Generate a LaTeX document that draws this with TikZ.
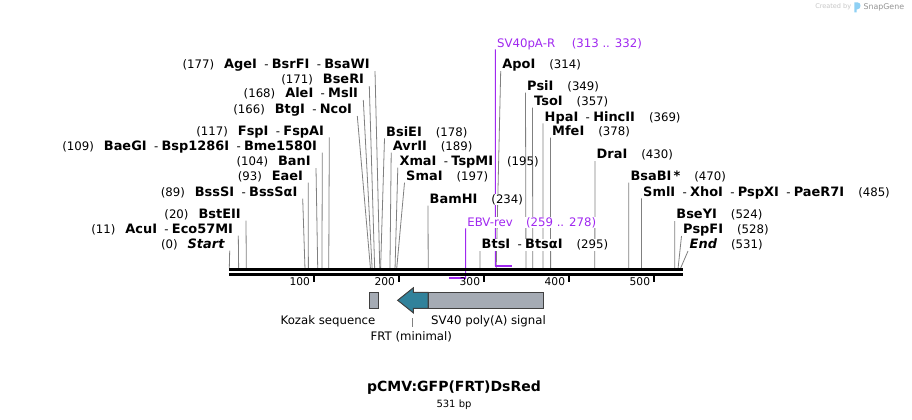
\documentclass[tikz,border=0pt]{standalone}
\usepackage{fontspec}
\setmainfont{DejaVu Sans}
\usetikzlibrary{positioning}

\definecolor{primer}{RGB}{160,40,240}
\definecolor{featgray}{RGB}{165,171,180}
\definecolor{frtteal}{RGB}{49,130,155}
\definecolor{logoblue}{RGB}{142,208,244}

\pgfdeclarelayer{paper}
\pgfdeclarelayer{leaders}
\pgfsetlayers{paper,leaders,main}

\newcommand{\enz}[1]{{\fontsize{9.7}{11}\selectfont\bfseries #1}}
\newcommand{\hy}{\hspace{5.5pt}-\hspace{2.5pt}}
\newcommand{\lpos}[1]{(#1)\hspace{7.5pt}}
\newcommand{\rpos}[1]{\hspace{10.5pt}(#1)}

\begin{document}
\begin{tikzpicture}[x=0.75pt,y=-0.75pt,font=\fontsize{8.8}{10}\selectfont]
    \tikzset{lsite/.style={anchor=south east,inner xsep=3.75pt,inner ysep=0pt,text depth=1.4pt,fill=white},
             rsite/.style={anchor=south west,inner xsep=1.1pt,inner ysep=0pt,text depth=1.4pt,fill=white},
             cut/.style={draw=gray,line width=0.6pt},
             feat/.style={draw=black!75,line width=0.75pt},
             oligo/.style={draw=primer,line width=0.7pt}}
    \begin{pgfonlayer}{paper}
    \path[use as bounding box,fill=white] (0,0) rectangle (912,419);
    \end{pgfonlayer}
    % sites on the top strand
    \foreach \site in {0,11,20,89,93,104,109,117,166,168,171,177,178,189,195,197,
                       234,295,314,349,357,369,378,430,470,485,524,528,531}
      \coordinate (s\site) at ({229.3+0.85*\site},268);
    \coordinate (p313) at ({229.3+0.85*313},266);
    \coordinate (p332) at ({229.3+0.85*332},266);
    \coordinate (p259) at ({229.3+0.85*259},278.3);
    \coordinate (p278) at ({229.3+0.85*278},278.3);

    % enzymes left of their cut
    \node[lsite] (ageI)   at (375,71)    {\lpos{177}\enz{AgeI}\hy\enz{BsrFI}\hy\enz{BsaWI}};
    \node[lsite] (bseRI)  at (369.3,86)  {\lpos{171}\enz{BseRI}};
    \node[lsite] (aleI)   at (363.3,100) {\lpos{168}\enz{AleI}\hy\enz{MslI}};
    \node[lsite] (btgI)   at (357.3,116) {\lpos{166}\enz{BtgI}\hy\enz{NcoI}};
    \node[lsite] (fspI)   at (329.3,137.3) {\lpos{117}\enz{FspI}\hy\enz{FspAI}};
    \node[lsite] (baeGI)  at (322.3,152.5) {\lpos{109}\enz{BaeGI}\hy\enz{Bsp1286I}\hy\enz{Bme1580I}};
    \node[lsite] (banI)   at (316,168)   {\lpos{104}\enz{BanI}};
    \node[lsite] (eaeI)   at (308.3,182.7) {\lpos{93}\enz{EaeI}};
    \node[lsite] (bssSI)  at (302.7,198.7) {\lpos{89}\enz{BssSI}\hy\enz{BssSαI}};
    \node[lsite] (bstEII) at (246,220.5) {\lpos{20}\enz{BstEII}};
    \node[lsite] (acuI)   at (238.3,235.5) {\lpos{11}\enz{AcuI}\hy\enz{Eco57MI}};
    \node[lsite] (start)  at (229.7,250.5) {\lpos{0}\enz{\itshape Start}};

    % enzymes right of their cut
    \node[rsite] (bsiEI)  at (384.5,138.3) {\enz{BsiEI}\rpos{178}};
    \node[rsite] (avrII)  at (391.2,152.7) {\enz{AvrII}\rpos{189}};
    \node[rsite,fill=none] (xmaI) at (397.8,167.7) {\enz{XmaI}\hy\enz{TspMI}\rpos{195}};
    \node[rsite] (smaI)   at (404.5,182.7) {\enz{SmaI}\rpos{197}};
    \node[rsite] (bamHI)  at (428,205.5)   {\enz{BamHI}\rpos{234}};
    \node[rsite] (btsI)   at (480,251)     {\enz{BtsI}\hy\enz{BtsαI}\rpos{295}};
    \node[rsite] (apoI)   at (500.7,71)    {\enz{ApoI}\rpos{314}};
    \node[rsite] (psiI)   at (525.5,92.7)  {\enz{PsiI}\rpos{349}};
    \node[rsite] (tsoI)   at (532.5,107.7) {\enz{TsoI}\rpos{357}};
    \node[rsite] (hpaI)   at (543,123.3)   {\enz{HpaI}\hy\enz{HincII}\rpos{369}};
    \node[rsite] (mfeI)   at (550.5,137.7) {\enz{MfeI}\rpos{378}};
    \node[rsite] (draI)   at (595,161)     {\enz{DraI}\rpos{430}};
    \node[rsite] (bsaBI)  at (628.8,182.7) {\enz{BsaBI\,*}\rpos{470}};
    \node[rsite] (smlI)   at (641.5,198.3) {\enz{SmlI}\hy\enz{XhoI}\hy\enz{PspXI}\hy\enz{PaeR7I}\rpos{485}};
    \node[rsite] (bseYI)  at (674.7,221)   {\enz{BseYI}\rpos{524}};
    \node[rsite] (pspFI)  at (681.5,236)   {\enz{PspFI}\rpos{528}};
    \node[rsite] (end)    at (688,251)     {\enz{\itshape End}\rpos{531}};

    % primers
    \node[rsite,text=primer] (sv40R) at (495.4,49.3) {SV40pA-R\hspace{12.5pt}(313 .. 332)};
    \node[rsite,text=primer] (ebvRev) at (465.6,228.3) {EBV-rev\hspace{10pt}(259 .. 278)};

    % connectors go under the labels
    \begin{pgfonlayer}{leaders}
    \foreach \n/\s in {ageI/177,bseRI/171,aleI/168,btgI/166,fspI/117,baeGI/109,banI/104,
                       eaeI/93,bssSI/89,bstEII/20,acuI/11,start/0}
      \draw[cut] (\n.south east) -- (s\s);
    \foreach \n/\s in {bsiEI/178,avrII/189,xmaI/195,smaI/197,bamHI/234,btsI/295,apoI/314,
                       psiI/349,tsoI/357,hpaI/369,mfeI/378,draI/430,bsaBI/470,smlI/485,
                       bseYI/524,pspFI/528,end/531}
      \draw[cut] (\n.south west) -- (s\s);
    \draw[oligo] (sv40R.south west) -- (p313);
    \draw[oligo] (ebvRev.south west) -- (p278);
    \end{pgfonlayer}
    \draw[oligo,line width=1.6pt] (p313) -- (p332);
    \draw[oligo,line width=1.6pt] (p278) -- (p259);

    % sequence bar and ruler
    \draw[line width=2pt] (229.3,269.7) -- (682.5,269.7) (229.3,274.7) -- (682.5,274.7);
    \foreach \k in {1,...,5} {
      \draw[line width=1.3pt] ({229.3+85*\k},276) -- ++(0,6);
      \node[anchor=east,inner sep=0pt,font=\fontsize{8}{9}\selectfont] (tick\k) at ({225.3+85*\k},281.7) {\k00};
    }

    % features
    \filldraw[feat,fill=featgray] (369.3,292.3) rectangle (378.7,308.3);
    \filldraw[feat,fill=frtteal] (397.7,300.3) -- (413.3,287.8) -- (413.3,292.3) -- (428,292.3)
        -- (428,308.3) -- (413.3,308.3) -- (413.3,312.8) -- cycle;
    \filldraw[feat,fill=featgray] (428,292.3) rectangle (543.3,308.3);
    \node (kozak) at (328,321.7) {Kozak sequence};
    \node (polyA) at (488.5,321.7) {SV40 poly(A) signal};
    \node (frt) at (411.3,336.7) {FRT (minimal)};
    \coordinate (frtArrow) at (412.3,318.3);
    \draw[cut] (frt.north -| frtArrow) -- (frtArrow);

    % title
    \node[font=\bfseries\fontsize{10.5}{12}\selectfont] (title) at (454,388) {pCMV:GFP(FRT)DsRed};
    \node[font=\fontsize{7.5}{9}\selectfont,below=-3pt of title] (length) {531 bp};

    % watermark
    \node[anchor=west,inner sep=0pt,text=black!22,font=\fontsize{4.9}{6}\selectfont] (made) at (815,7) {Created by};
    \fill[logoblue] (854.3,2.3) -- (857.5,2.3) .. controls (861.5,2.3) and (861.5,9.3) .. (857.5,9.3)
        -- (856.6,9.3) -- (856.6,12.3) -- (854.3,12.3) -- cycle;
    \node[anchor=west,inner sep=0pt,text=black!42,font=\fontsize{5.9}{7}\selectfont] (snap) at (863.3,7) {SnapGene};
\end{tikzpicture}
\end{document}
